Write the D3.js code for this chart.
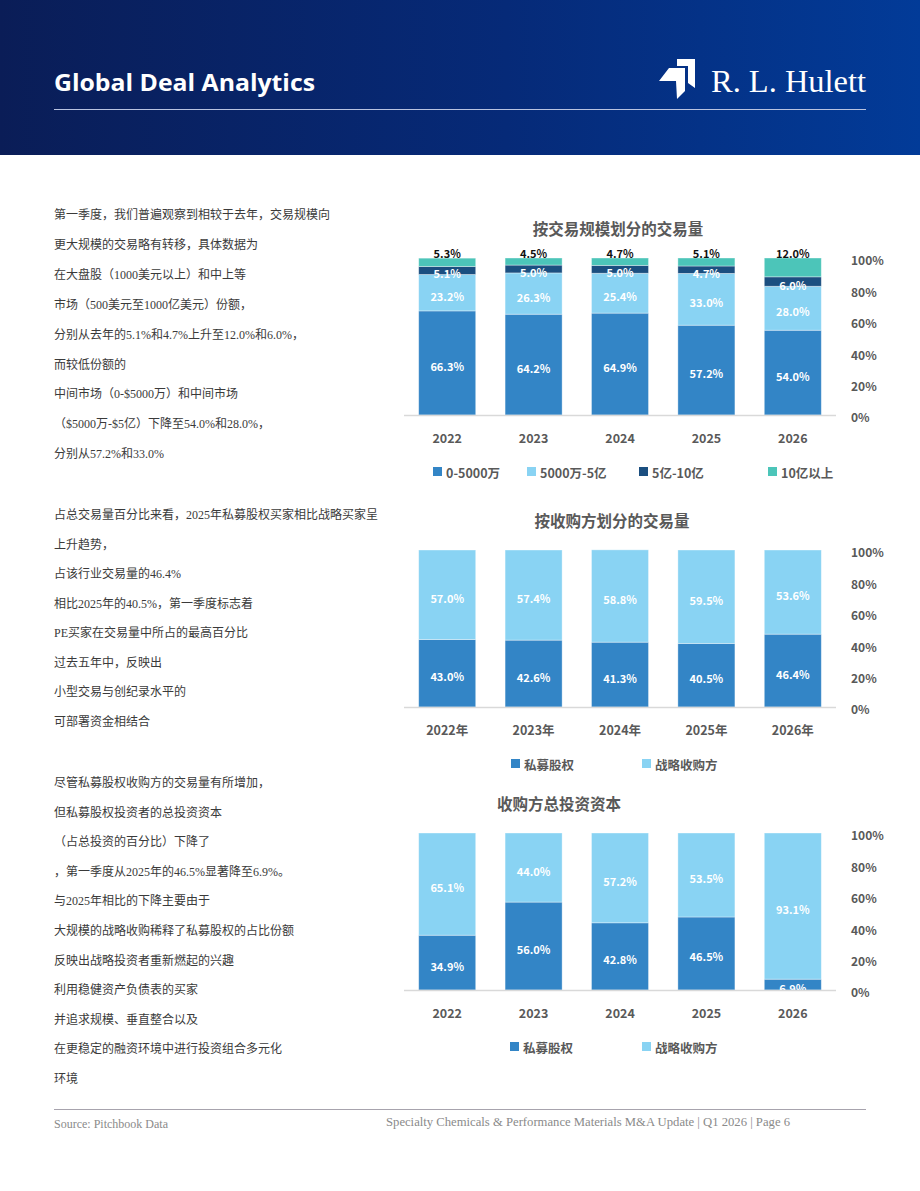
<!DOCTYPE html>
<html>
<head>
<meta charset="utf-8">
<script src="https://cdn.jsdelivr.net/npm/d3@7"></script>
<style>
  html, body { margin: 0; padding: 0; background: #fff; }
  svg { display: block; }
</style>
</head>
<body>
<div id="page"></div>
<script>
// ---- data ----
const years = ['2022', '2023', '2024', '2025', '2026'];
const yearsCn = ['2022年', '2023年', '2024年', '2025年', '2026年'];

// chart 1: deal volume by size
const sizeSeries = ['0-5000万', '5000万-5亿', '5亿-10亿', '10亿以上'];
const size0to50m = [66.3, 64.2, 64.9, 57.2, 54.0];
const size50mto500m = [23.2, 26.3, 25.4, 33.0, 28.0];
const size500mto1b = [5.1, 5.0, 5.0, 4.7, 6.0];
const sizeOver1b = [5.3, 4.5, 4.7, 5.1, 12.0];

// chart 2: deal volume by buyer type
const buyerSeries = ['私募股权', '战略收购方'];
const volumePE = [43.0, 42.6, 41.3, 40.5, 46.4];
const volumeStrategic = [57.0, 57.4, 58.8, 59.5, 53.6];

// chart 3: total invested capital by buyer type
const capitalPE = [34.9, 56.0, 42.8, 46.5, 6.9];
const capitalStrategic = [65.1, 44.0, 57.2, 53.5, 93.1];

const yTicks = [0, 20, 40, 60, 80, 100];

const para1 = [
  '第一季度，我们普遍观察到相较于去年，交易规模向',
  '更大规模的交易略有转移，具体数据为',
  '在大盘股（1000美元以上）和中上等',
  '市场（500美元至1000亿美元）份额，',
  '分别从去年的5.1%和4.7%上升至12.0%和6.0%，',
  '而较低份额的',
  '中间市场（0-$5000万）和中间市场',
  '（$5000万-$5亿）下降至54.0%和28.0%，',
  '分别从57.2%和33.0%'
];
const para2 = [
  '占总交易量百分比来看，2025年私募股权买家相比战略买家呈',
  '上升趋势，',
  '占该行业交易量的46.4%',
  '相比2025年的40.5%，第一季度标志着',
  'PE买家在交易量中所占的最高百分比',
  '过去五年中，反映出',
  '小型交易与创纪录水平的',
  '可部署资金相结合'
];
const para3 = [
  '尽管私募股权收购方的交易量有所增加，',
  '但私募股权投资者的总投资资本',
  '（占总投资的百分比）下降了',
  '，第一季度从2025年的46.5%显著降至6.9%。',
  '与2025年相比的下降主要由于',
  '大规模的战略收购稀释了私募股权的占比份额',
  '反映出战略投资者重新燃起的兴趣',
  '利用稳健资产负债表的买家',
  '并追求规模、垂直整合以及',
  '在更稳定的融资环境中进行投资组合多元化',
  '环境'
];

// ---- page ----
const W = 920, H = 1191;
const CJK = '"Noto Sans CJK SC", "Noto Sans", sans-serif';
const SERIF_CJK = '"Liberation Serif", "Noto Sans CJK SC", serif';
const colors = {
  dark: '#3385c6',
  light: '#89d3f3',
  navy: '#1b4f80',
  teal: '#4cc5b9',
  axisText: '#595959'
};

const svg = d3.select('#page').append('svg')
  .attr('width', W)
  .attr('height', H);

const defs = svg.append('defs');
const grad = defs.append('linearGradient')
  .attr('id', 'hdr')
  .attr('x1', '0').attr('y1', '0')
  .attr('x2', '1').attr('y2', '0');
grad.append('stop').attr('offset', '0%').attr('stop-color', '#0a1d57');
grad.append('stop').attr('offset', '55%').attr('stop-color', '#062a78');
grad.append('stop').attr('offset', '100%').attr('stop-color', '#023b98');

// header
svg.append('rect')
  .attr('width', W).attr('height', 155)
  .attr('fill', 'url(#hdr)');

svg.append('text')
  .attr('x', 54).attr('y', 91)
  .attr('font-family', '"Open Sans", "Noto Sans", sans-serif')
  .attr('font-weight', 'bold')
  .attr('font-size', 23)
  .attr('fill', '#fff')
  .attr('textLength', 261)
  .attr('lengthAdjust', 'spacingAndGlyphs')
  .text('Global Deal Analytics');

svg.append('line')
  .attr('x1', 54).attr('x2', 866)
  .attr('y1', 109.5).attr('y2', 109.5)
  .attr('stroke', '#b9c3e0')
  .attr('stroke-width', 1);

// logo mark
const logo = svg.append('g').attr('fill', '#fff');
logo.append('path')
  .attr('d', 'M677,59 L695,59 L695,88 L688,83 L688,66 L677,66 Z');
logo.append('path')
  .attr('d', 'M659,81 L669,68 L685,68 L685,91 L677,99 L676,81 Z');

svg.append('text')
  .attr('x', 711).attr('y', 92)
  .attr('font-family', '"Liberation Serif", "DejaVu Serif", serif')
  .attr('font-size', 31)
  .attr('fill', '#fff')
  .attr('textLength', 155)
  .attr('lengthAdjust', 'spacingAndGlyphs')
  .text('R. L. Hulett');

// body text
function drawParagraph(lines, y0, step) {
  svg.append('g')
    .selectAll('text')
    .data(lines)
    .join('text')
    .attr('x', 54)
    .attr('y', (d, i) => y0 + i * step + 4)
    .attr('font-family', SERIF_CJK)
    .attr('font-size', 12)
    .attr('fill', '#3a3a3a')
    .text(d => d);
}
drawParagraph(para1, 215, 29.9);
drawParagraph(para2, 515, 29.5);
drawParagraph(para3, 783, 29.6);

// footer
svg.append('line')
  .attr('x1', 54).attr('x2', 866)
  .attr('y1', 1109.5).attr('y2', 1109.5)
  .attr('stroke', '#a7a3ad')
  .attr('stroke-width', 1.2);
svg.append('text')
  .attr('x', 54).attr('y', 1128)
  .attr('font-family', '"Liberation Serif", serif')
  .attr('font-size', 12)
  .attr('fill', '#8a8a8a')
  .text('Source: Pitchbook Data');
svg.append('text')
  .attr('x', 386).attr('y', 1126)
  .attr('font-family', '"Liberation Serif", serif')
  .attr('font-size', 12)
  .attr('fill', '#8a8a8a')
  .attr('textLength', 404)
  .attr('lengthAdjust', 'spacingAndGlyphs')
  .text('Specialty Chemicals & Performance Materials M&A Update | Q1 2026 | Page 6');

// ---- stacked bar charts ----
function stackedChart(opts) {
  const g = svg.append('g');
  const rows = opts.categories.map((c, i) => {
    const row = { cat: c };
    opts.series.forEach((s, k) => { row[s] = opts.values[k][i]; });
    return row;
  });
  const stacked = d3.stack().keys(opts.series)(rows);

  const x = d3.scaleBand()
    .domain(opts.categories)
    .range([404, 836])
    .paddingInner(0.34)
    .paddingOuter(0.17);
  const y = d3.scaleLinear()
    .domain([0, 100])
    .range([opts.base, opts.base - 157]);

  // title
  g.append('text')
    .attr('x', opts.titleX).attr('y', opts.base - 180)
    .attr('text-anchor', 'middle')
    .attr('font-family', CJK)
    .attr('font-weight', 'bold')
    .attr('font-size', 15.5)
    .attr('fill', colors.axisText)
    .text(opts.title);

  // bars
  const layer = g.selectAll('.layer')
    .data(stacked)
    .join('g')
    .attr('fill', (d, k) => opts.colors[k]);
  layer.selectAll('rect')
    .data(d => d)
    .join('rect')
    .attr('x', d => x(d.data.cat))
    .attr('width', x.bandwidth())
    .attr('y', d => y(d[1]))
    .attr('height', d => y(d[0]) - y(d[1]))
    .attr('stroke', '#ffffff')
    .attr('stroke-opacity', 0.45)
    .attr('stroke-width', 0.8);

  // segment labels
  stacked.forEach((s, k) => {
    const outside = opts.outsideTop && k === stacked.length - 1;
    g.append('g')
      .selectAll('text')
      .data(s)
      .join('text')
      .attr('x', d => x(d.data.cat) + x.bandwidth() / 2)
      .attr('y', d => outside ? y(d[1]) - 5 : (y(d[0]) + y(d[1])) / 2 + 3)
      .attr('dominant-baseline', 'central')
      .attr('text-anchor', 'middle')
      .attr('font-family', CJK)
      .attr('font-weight', 'bold')
      .attr('font-size', 11)
      .attr('fill', outside ? '#111' : '#fff')
      .text(d => (d[1] - d[0]).toFixed(1) + '%');
  });

  // baseline
  g.append('line')
    .attr('x1', 404).attr('x2', 836)
    .attr('y1', opts.base + 0.5).attr('y2', opts.base + 0.5)
    .attr('stroke', '#d9d9d9')
    .attr('stroke-width', 1.5);

  // x axis
  const xAxis = g.append('g')
    .attr('transform', `translate(0,${opts.base})`)
    .call(d3.axisBottom(x).tickSize(0).tickPadding(19));
  xAxis.select('.domain').remove();
  xAxis.selectAll('text')
    .attr('font-family', CJK)
    .attr('font-weight', 'bold')
    .attr('font-size', 12.5)
    .attr('fill', colors.axisText);

  // y axis on the right
  const yAxis = g.append('g')
    .attr('transform', 'translate(851,3)')
    .call(d3.axisRight(y).tickValues(yTicks).tickSize(0).tickPadding(0)
      .tickFormat(d => d + '%'));
  yAxis.select('.domain').remove();
  yAxis.selectAll('text')
    .attr('font-family', CJK)
    .attr('font-weight', 'bold')
    .attr('font-size', 12)
    .attr('fill', colors.axisText);

  // legend
  const leg = g.append('g')
    .selectAll('g')
    .data(opts.series)
    .join('g')
    .attr('transform', (d, i) => `translate(${opts.legendX[i]},${opts.base + 57})`);
  leg.append('rect')
    .attr('x', 0).attr('y', -5)
    .attr('width', 9).attr('height', 9)
    .attr('fill', (d, i) => opts.colors[i]);
  leg.append('text')
    .attr('x', 13).attr('y', 0)
    .attr('dominant-baseline', 'central')
    .attr('font-family', CJK)
    .attr('font-weight', 'bold')
    .attr('font-size', 12.5)
    .attr('fill', colors.axisText)
    .text(d => d);
}

stackedChart({
  title: '按交易规模划分的交易量',
  titleX: 618,
  base: 415,
  categories: years,
  series: sizeSeries,
  values: [size0to50m, size50mto500m, size500mto1b, sizeOver1b],
  colors: [colors.dark, colors.light, colors.navy, colors.teal],
  legendX: [433, 527, 639, 768],
  outsideTop: true
});

stackedChart({
  title: '按收购方划分的交易量',
  titleX: 612,
  base: 707,
  categories: yearsCn,
  series: buyerSeries,
  values: [volumePE, volumeStrategic],
  colors: [colors.dark, colors.light],
  legendX: [511, 642],
  outsideTop: false
});

stackedChart({
  title: '收购方总投资资本',
  titleX: 559,
  base: 990,
  categories: years,
  series: buyerSeries,
  values: [capitalPE, capitalStrategic],
  colors: [colors.dark, colors.light],
  legendX: [510, 642],
  outsideTop: false
});
</script>
</body>
</html>
